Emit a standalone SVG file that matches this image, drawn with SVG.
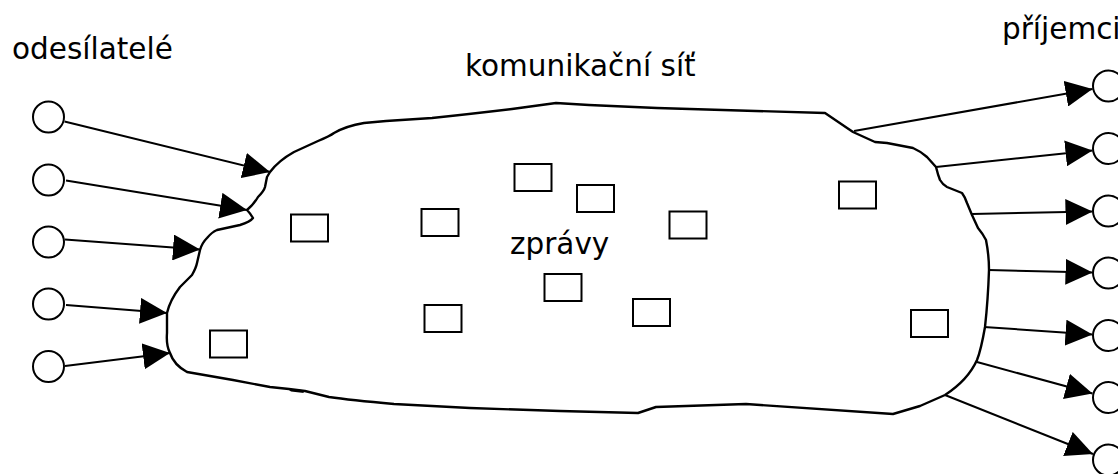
<svg xmlns="http://www.w3.org/2000/svg" width="1118" height="474" viewBox="0 0 1118 474">
  <style>
    .bg { fill: #ffffff; }
    .end { fill: #ffffff; stroke: #000000; stroke-width: 2; }
    .msg { fill: #ffffff; stroke: #000000; stroke-width: 2; }
    .cloud { fill: #ffffff; stroke: #000000; stroke-width: 2.4; stroke-linejoin: round; }
    .link { fill: none; stroke: #000000; stroke-width: 2; marker-end: url(#head); }
    .lbl { font-family: "DejaVu Sans", "Noto Sans", sans-serif; font-size: 29.5px; fill: #000000; }
  </style>
  <defs>
    <marker id="head" markerUnits="userSpaceOnUse" markerWidth="27" markerHeight="26" viewBox="0 0 27 26" refX="27" refY="13" orient="auto">
      <path d="M0,0 L27,13 L0,26 Z" fill="#000000"/>
    </marker>
  </defs>

  <rect class="bg" x="0" y="0" width="1118" height="474"/>

  <!-- communication network outline -->
  <g id="network">
    <path class="cloud" d="M270,172 C276,164 285,157 294,152 L318,141 Q330,136 334,133 Q346,126 364,123 L386,121 L432,118 Q470,114 512,109 L556,103 L589,105 L657,108 L825,113 L853,132 L875,142 L887,143 L913,148 Q920,151 927,157 L936,167 Q938,175 940,180 Q943,185 947,187 L962,193 Q965,197 967,203 L972,215 L978,228 Q983,234 986,240 Q989,255 989,270 Q988,300 985,327 Q981,350 977,360 Q968,380 945,395 L920,406 L893,414 L746,404 L656,407 L638,413 L560,411 L470,408 L394,404 Q350,400 329,397 L305,391 L289,389 L270,387 L233,380 L187,372 Q174,365 170,353 Q166,345 167,333 L167,313 Q170,300 180,287 Q188,279 192,275 Q196,268 197,263 L200,250 Q202,243 207,238 Q212,232 217,230 L240,225 Q250,222 253,218 Q250,213 247,210 Q254,204 258,197 Q264,191 265,187 L267,177 Z"/>
    <path d="M287,388.5 L302,390 L304,393 L291,391.5 Z" fill="#000000"/>
    <text class="lbl" x="465" y="76">komunikační síť</text>
  </g>

  <!-- messages inside the network -->
  <g id="messages">
    <rect id="m1" class="msg" x="291" y="214.5" width="37" height="27"/>
    <rect id="m2" class="msg" x="421.5" y="209" width="37" height="27"/>
    <rect id="m3" class="msg" x="514.5" y="164" width="37" height="27"/>
    <rect id="m4" class="msg" x="577" y="185" width="37" height="27"/>
    <rect id="m5" class="msg" x="669.5" y="211.5" width="37" height="27"/>
    <rect id="m6" class="msg" x="544.5" y="274" width="37" height="27"/>
    <rect id="m7" class="msg" x="633" y="299" width="37" height="27"/>
    <rect id="m8" class="msg" x="424.5" y="305" width="37" height="27"/>
    <rect id="m9" class="msg" x="210" y="330.5" width="37" height="27"/>
    <rect id="m10" class="msg" x="839" y="181.5" width="37" height="27"/>
    <rect id="m11" class="msg" x="911" y="310" width="37" height="27"/>
    <text class="lbl" x="510" y="254">zprávy</text>
  </g>

  <!-- senders -->
  <g id="senders">
    <text class="lbl" x="12" y="59">odesílatelé</text>
    <circle id="s1" class="end" cx="48.5" cy="117" r="15.5"/>
    <circle id="s2" class="end" cx="48.5" cy="180" r="15.5"/>
    <circle id="s3" class="end" cx="48.5" cy="242" r="15.5"/>
    <circle id="s4" class="end" cx="48.5" cy="304" r="15.5"/>
    <circle id="s5" class="end" cx="48.5" cy="366.5" r="15.5"/>
  </g>

  <!-- receivers -->
  <g id="receivers">
    <text class="lbl" x="1002" y="39">příjemci</text>
    <circle id="r1" class="end" cx="1108.5" cy="86" r="15.5"/>
    <circle id="r2" class="end" cx="1108.5" cy="148.5" r="15.5"/>
    <circle id="r3" class="end" cx="1108.5" cy="211" r="15.5"/>
    <circle id="r4" class="end" cx="1108.5" cy="273" r="15.5"/>
    <circle id="r5" class="end" cx="1108.5" cy="335.5" r="15.5"/>
    <circle id="r6" class="end" cx="1108.5" cy="397.5" r="15.5"/>
    <circle id="r7" class="end" cx="1108.5" cy="460" r="15.5"/>
  </g>

  <!-- connectors -->
  <g id="connectors">
    <line class="link" x1="64.5" y1="121.5" x2="270" y2="172"/>
    <line class="link" x1="66" y1="180.5" x2="247" y2="210"/>
    <line class="link" x1="65" y1="239.5" x2="200" y2="249.5"/>
    <line class="link" x1="66" y1="305" x2="167" y2="313"/>
    <line class="link" x1="65" y1="366" x2="170" y2="353"/>

    <line class="link" x1="854" y1="131" x2="1092.5" y2="89"/>
    <line class="link" x1="936" y1="167" x2="1092.5" y2="150.5"/>
    <line class="link" x1="972" y1="214" x2="1092.5" y2="211.5"/>
    <line class="link" x1="988.5" y1="270" x2="1092.5" y2="272.5"/>
    <line class="link" x1="984" y1="327" x2="1092.5" y2="334.5"/>
    <line class="link" x1="977" y1="362" x2="1092.5" y2="393.5"/>
    <line class="link" x1="945" y1="395" x2="1093" y2="454"/>
  </g>
</svg>
